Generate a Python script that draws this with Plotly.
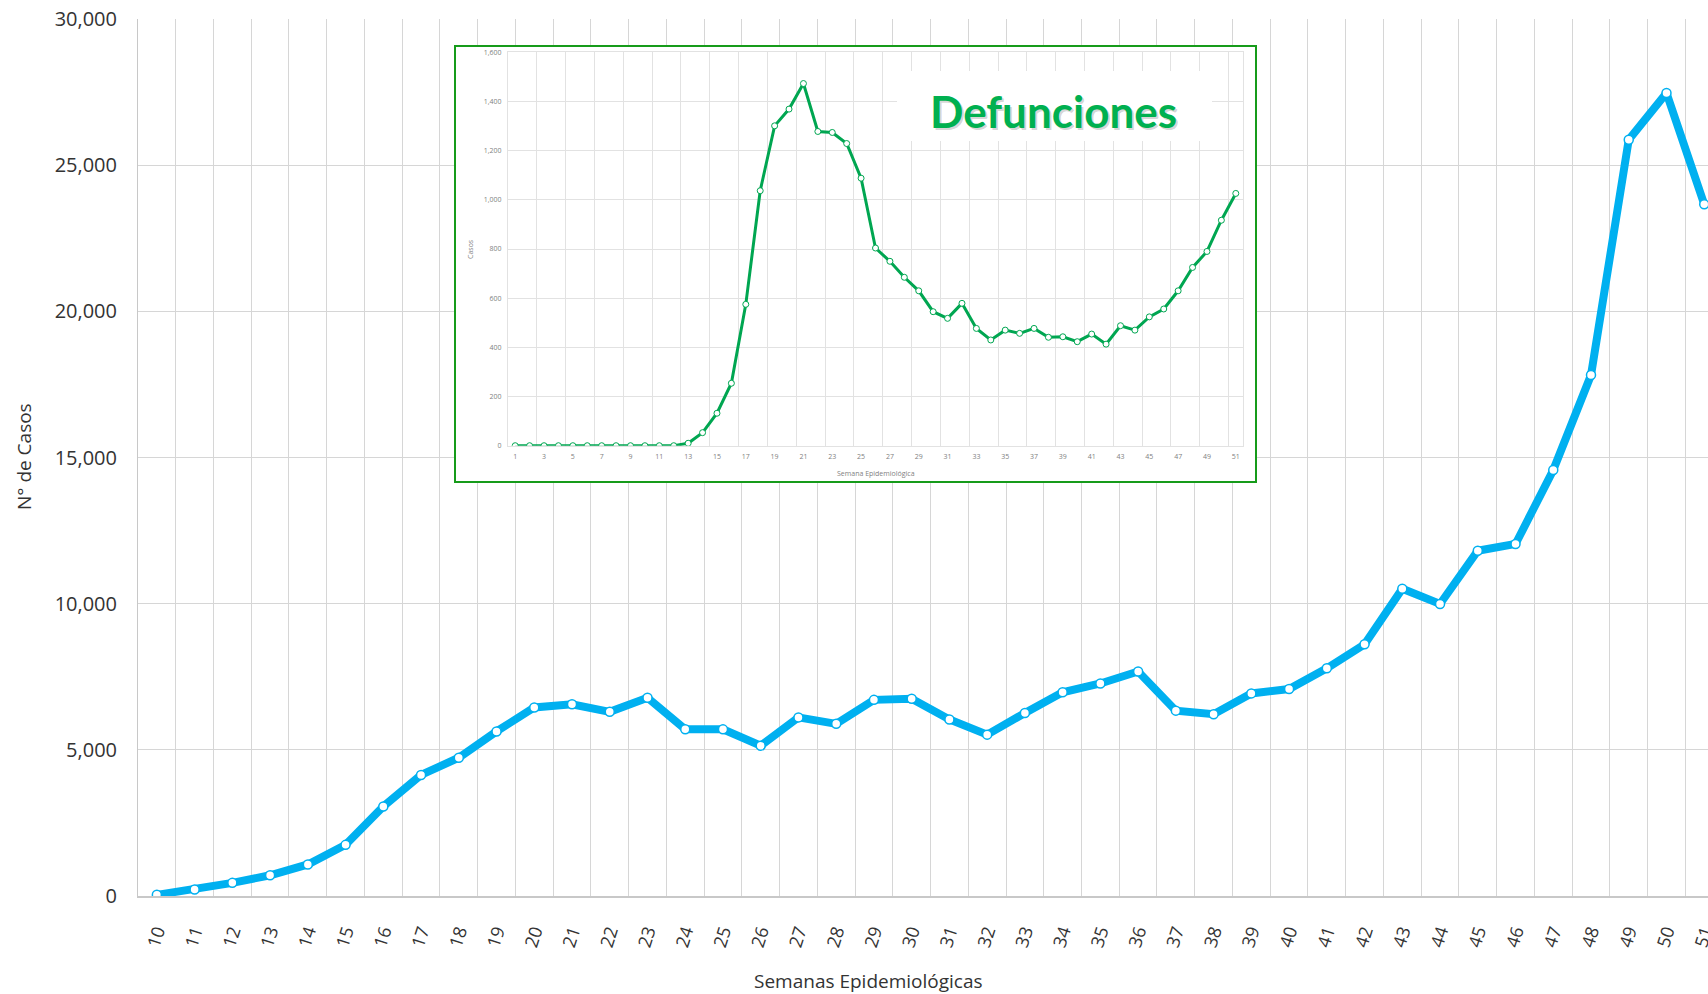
import plotly.graph_objects as go

# ---- main series: weekly cases ----
weeks = [str(w) for w in range(10, 52)]
cases = [40, 220, 450, 710, 1080, 1750, 3060, 4140, 4730, 5630,
         6450, 6560, 6300, 6780, 5700, 5700, 5140, 6110, 5890, 6710,
         6750, 6040, 5520, 6260, 6970, 7270, 7680, 6340, 6220, 6930,
         7080, 7790, 8610, 10510, 9990, 11810, 12040, 14570, 17820, 25870,
         27470, 23660]
y_ticks = [0, 5000, 10000, 15000, 20000, 25000, 30000]

# ---- inset series: weekly deaths ----
inset_weeks = list(range(1, 52))
deaths = [0, 0, 0, 0, 0, 0, 0, 0, 0, 0, 0, 0, 10, 53, 132, 254, 575,
          1037, 1301, 1369, 1473, 1278, 1274, 1229, 1088, 804, 750, 685,
          630, 545, 518, 579, 477, 430, 470, 457, 477, 441, 443, 423,
          454, 413, 488, 470, 524, 556, 630, 725, 790, 917, 1026]
inset_xticks = list(range(1, 52, 2))
inset_yticks = [0, 200, 400, 600, 800, 1000, 1200, 1400, 1600]

W, H = 1708, 994
L, R, T, B = 138, 0, 19, 98
PW, PH = W - L - R, H - T - B


def px(x):
    return (x - L) / PW


def py(y):
    return (H - B - y) / PH


BLUE = "#00B0F0"
GREEN = "#00A651"
FRAME = "#169B1A"
FONT = "Open Sans"

fig = go.Figure()

fig.add_trace(go.Scatter(
    x=weeks, y=cases, mode="lines+markers",
    line=dict(color=BLUE, width=8),
    marker=dict(size=9, color="white", line=dict(color=BLUE, width=1.5)),
    xaxis="x", yaxis="y", showlegend=False, hoverinfo="x+y"))

# blank frame subplot (white background for the inset)
fig.add_trace(go.Scatter(x=[], y=[], xaxis="x2", yaxis="y2",
                         showlegend=False, hoverinfo="skip"))

fig.add_trace(go.Scatter(
    x=inset_weeks, y=deaths, mode="lines+markers",
    line=dict(color=GREEN, width=3),
    marker=dict(size=6, color="white", line=dict(color=GREEN, width=1)),
    xaxis="x3", yaxis="y3", showlegend=False, hoverinfo="x+y"))

grid = "#D6D6D6"
fig.update_layout(
    width=W, height=H,
    margin=dict(l=L, r=R, t=T, b=B, autoexpand=False),
    paper_bgcolor="white", plot_bgcolor="white",
    font=dict(family=FONT, color="#333333"),
    xaxis=dict(type="category", range=[-0.5, 41.1], tickson="boundaries",
               showgrid=True, gridcolor=grid, gridwidth=1,
               showline=True, linecolor="#C8C8C8", linewidth=1.5,
               ticks="", tickangle=-72, ticklabelstandoff=16,
               tickfont=dict(size=18, color="#333333", family=FONT),
               zeroline=False, domain=[0, 1], anchor="y"),
    yaxis=dict(range=[0, 30000], tickvals=y_ticks, tickformat=",",
               showgrid=True, gridcolor=grid, gridwidth=1,
               showline=True, linecolor="#C8C8C8", linewidth=1,
               ticks="", ticklabelstandoff=16,
               tickfont=dict(size=20, color="#333333", family=FONT),
               zeroline=False, domain=[0, 1], anchor="x"),
    xaxis2=dict(domain=[px(455), px(1256)], range=[0, 1], anchor="y2",
                showgrid=False, zeroline=False, showticklabels=False,
                showline=False, ticks="", fixedrange=True),
    yaxis2=dict(domain=[py(482), py(46)], range=[0, 1], anchor="x2",
                showgrid=False, zeroline=False, showticklabels=False,
                showline=False, ticks="", fixedrange=True),
    xaxis3=dict(domain=[px(508), px(1243)], range=[0.5, 51.5], anchor="y3",
                tickvals=inset_xticks, showgrid=False, zeroline=False,
                minor=dict(tickmode="linear", tick0=0.5, dtick=2,
                           showgrid=True, gridcolor="#E2E2E2", ticks=""),
                showline=True, mirror=True, linecolor="#E2E2E2",
                ticks="", ticklabelstandoff=4,
                tickfont=dict(size=7, color="#7F7F7F", family=FONT)),
    yaxis3=dict(domain=[py(445.7), py(52.3)], range=[0, 1600], anchor="x3",
                tickvals=inset_yticks, tickformat=",",
                showgrid=True, gridcolor="#E2E2E2", zeroline=False,
                showline=True, mirror=True, linecolor="#E2E2E2",
                ticks="", ticklabelstandoff=4,
                tickfont=dict(size=7, color="#7F7F7F", family=FONT)),
)

# inset frame border and title background
fig.add_shape(type="rect", xref="paper", yref="paper",
              x0=px(455), x1=px(1256), y0=py(482), y1=py(46),
              line=dict(color=FRAME, width=2), fillcolor="rgba(0,0,0,0)",
              layer="above")
fig.add_shape(type="rect", xref="paper", yref="paper",
              x0=px(897), x1=px(1212), y0=py(141), y1=py(71),
              line=dict(width=0), fillcolor="white", layer="above")

annots = [
    dict(x=px(1053), y=py(110.7), text="<b>Defunciones</b>", xshift=2, yshift=-2,
         font=dict(family="Lato", size=44, color="rgba(0,0,0,0.18)")),
    dict(x=px(1053), y=py(110.7), text="<b>Defunciones</b>",
         font=dict(family="Lato", size=44, color="#00B050")),
    dict(x=px(868), y=py(981), text="Semanas Epidemiológicas",
         font=dict(family=FONT, size=19, color="#333333")),
    dict(x=px(24), y=py(457), text="N° de Casos", textangle=-90,
         font=dict(family=FONT, size=19, color="#333333")),
    dict(x=px(471), y=py(249), text="Casos", textangle=-90,
         font=dict(family=FONT, size=7, color="#7F7F7F")),
    dict(x=px(876), y=py(474), text="Semana Epidemiológica",
         font=dict(family=FONT, size=7, color="#7F7F7F")),
]
for a in annots:
    fig.add_annotation(xref="paper", yref="paper", showarrow=False,
                       xanchor="center", yanchor="middle", **a)

fig.write_html(
    "out.html",
    config={"displayModeBar": False},
    post_script="document.body.style.margin='0';"
                "document.body.style.overflow='hidden';")
